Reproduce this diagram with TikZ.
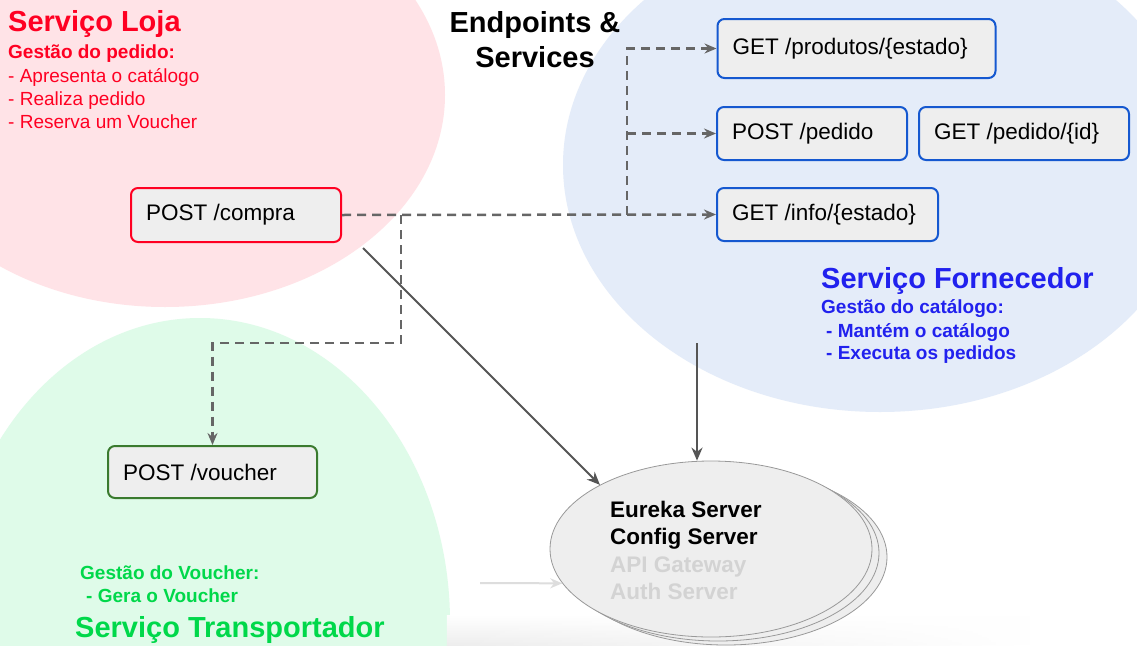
\documentclass[tikz,border=0pt]{standalone}
\usepackage{fontspec}
\setmainfont{Liberation Sans}
\usetikzlibrary{shapes.geometric,arrows.meta,fadings}
\definecolor{redfill}{HTML}{FFE3E7}
\definecolor{bluefill}{HTML}{E4ECF9}
\definecolor{greenfill}{HTML}{DFFBE9}
\definecolor{redtxt}{HTML}{FF0022}
\definecolor{bluetxt}{HTML}{2121EE}
\definecolor{greentxt}{HTML}{00D84A}
\definecolor{boxfill}{HTML}{EEEEEE}
\definecolor{redline}{HTML}{FF0022}
\definecolor{blueline}{HTML}{1558D0}
\definecolor{greenline}{HTML}{3A7A2E}
\definecolor{dashgray}{HTML}{666666}
\definecolor{solidgray}{HTML}{555555}
\definecolor{lightarr}{HTML}{DDDDDD}
\definecolor{ghosttxt}{HTML}{D3D3D3}
\definecolor{ellline}{HTML}{999999}
\begin{document}
\begin{tikzpicture}[x=1pt,y=-1pt,
  lbl/.style={anchor=base west, inner sep=0pt},
  ttl/.style={lbl, font=\bfseries\fontsize{29}{35}\selectfont},
  sub/.style={lbl, font=\bfseries\fontsize{19}{23}\selectfont},
  itm/.style={lbl, font=\fontsize{19}{23}\selectfont},
  eur/.style={lbl, font=\bfseries\fontsize{22.5}{27}\selectfont},
  epbox/.style={draw, line width=2pt, rounded corners=7pt, fill=boxfill,
    inner xsep=15pt, inner ysep=0pt, align=flush left,
    font=\fontsize{22.5}{26}\selectfont, minimum height=53pt},
  darr/.style={draw=dashgray, line width=2.5pt, dash pattern=on 9pt off 6pt,
    -{Stealth[length=12pt,width=10pt]}},
  sarr/.style={draw=solidgray, line width=2pt, -{Stealth[length=13pt,width=11pt]}},
  larr/.style={draw=lightarr, line width=2pt, -{Stealth[length=12pt,width=10pt]}},
  ell/.style={draw=ellline, line width=0.8pt, fill=boxfill}
]
\useasboundingbox (0,0) rectangle (1137,645);
\fill[white] (0,0) rectangle (1137,645);

% service regions
\fill[redfill] (165,95) ellipse [x radius=280pt, y radius=212pt];
\fill[bluefill] (880,165) ellipse [x radius=317pt, y radius=247pt];
\fill[greenfill] (200,622) ellipse [x radius=250pt, y radius=304pt];

% bottom shadow
\shade[top color=white, bottom color=black!7, path fading=east] (447,615) rectangle (1030,645);

% Serviço Loja texts
\node[ttl, text=redtxt] (lojaT) at (8,31) {Serviço Loja};
\node[sub, text=redtxt] (lojaG) at (8,58) {Gestão do pedido:};
\node[itm, text=redtxt] (lojaA) at (8,82) {- Apresenta o catálogo};
\node[itm, text=redtxt] (lojaB) at (8,105) {- Realiza pedido};
\node[itm, text=redtxt] (lojaC) at (8,128) {- Reserva um Voucher};

% heading
\node[ttl, anchor=base] (hdA) at (535,32) {Endpoints \&};
\node[ttl, anchor=base] (hdB) at (535,67) {Services};

% Fornecedor texts
\node[ttl, text=bluetxt] (forT) at (821,288) {Serviço Fornecedor};
\node[sub, text=bluetxt] (forG) at (821,313) {Gestão do catálogo:};
\node[sub, text=bluetxt] (forA) at (826,337) {- Mantém o catálogo};
\node[sub, text=bluetxt] (forB) at (826,359) {- Executa os pedidos};

% Transportador texts
\node[sub, text=greentxt] (traG) at (80,579) {Gestão do Voucher:};
\node[sub, text=greentxt] (traA) at (86,602) {- Gera o Voucher};
\node[ttl, text=greentxt] (traT) at (75,637) {Serviço Transportador};

% endpoint boxes
\node[epbox, draw=redline, text width=180pt, minimum height=54pt] (compra) at (236,215) {POST /compra};
\node[epbox, draw=blueline, text width=248pt, minimum height=59pt] (produtos) at (856.5,48.5) {GET /produtos/\{estado\}};
\node[epbox, draw=blueline, text width=160pt] (pedido) at (812,133.5) {POST /pedido};
\node[epbox, draw=blueline, text width=180pt] (pedidoid) at (1024,133.5) {GET /pedido/\{id\}};
\node[epbox, draw=blueline, text width=191pt] (info) at (827.5,214.5) {GET /info/\{estado\}};
\node[epbox, draw=greenline, text width=179pt, minimum height=52pt] (voucher) at (212.5,472) {POST /voucher};

% Eureka ellipse stack
\draw[ell] (726,557) ellipse [x radius=161pt, y radius=88pt];
\draw[ell] (718,553) ellipse [x radius=161pt, y radius=88pt];
\node[ell, ellipse, minimum width=322pt, minimum height=176pt, inner sep=0pt] (eureka) at (711,549) {};
\node[eur] (eA) at (610,517) {Eureka Server};
\node[eur] (eB) at (610,544) {Config Server};
\node[eur, text=ghosttxt] (eC) at (610,572) {API Gateway};
\node[eur, text=ghosttxt] (eD) at (610,599) {Auth Server};

% connectors
\coordinate (jv) at (627,214.5);
\coordinate (jp) at (627,133.5);
\coordinate (jh) at (401,215);
\coordinate (jb) at (401,343);
\coordinate (cs) at (363,248);
\coordinate (fs) at (697,343);
\coordinate (gs) at (480,583);

\draw[darr] (compra.east) -- (info.west);
\draw[darr] (jv) |- (produtos.west);
\draw[darr] (jp) -- (pedido.west);
\draw[darr] (jh) -- (jb) -| (voucher.north);
\draw[sarr] (cs) -- (eureka.150);
\draw[sarr] (fs) -- (fs |- eureka.north);
\draw[larr] (gs) -- (eureka.193);
\end{tikzpicture}
\end{document}
